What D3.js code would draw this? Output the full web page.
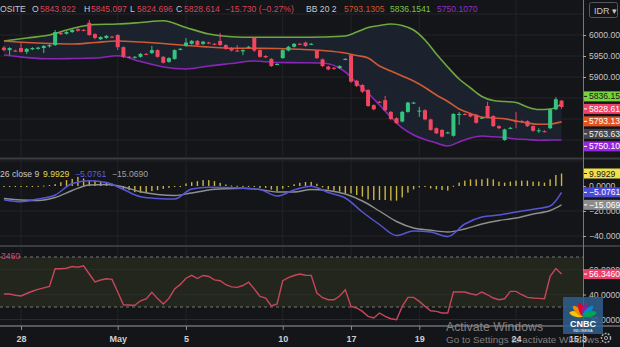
<!DOCTYPE html>
<html><head><meta charset="utf-8">
<script src="https://cdn.jsdelivr.net/npm/d3@7"></script>
<style>html,body{margin:0;padding:0;background:#141518;overflow:hidden}svg{display:block}text{font-family:"Liberation Sans",Arial,sans-serif}</style>
</head><body><svg id="c" width="620" height="347"></svg>
<script>
// ---------- DATA ----------
const dayLabels = ["28","May","5","10","17","19","24"];
const dayIdx = [3,20,32,49,61,73,90];

const open = [5970,5964,5963,5969,5960,5966,5967,5969,5973,5976,
6005,6003,6007,6014,6012,6029,6002,5990,5993,5996,
6000,5971,5948,5947,5948,5955,5957,5964,5948,5936,
5943,5966,5974,5979,5986,5979,5982,5979,5986,5976,
5969,5963,5961,5971,5993,5964,5950,5943,5930,5945,
5963,5972,5979,5982,5978,5963,5942,5925,5922,5921,
5942,5952,5891,5881,5869,5833,5841,5845,5817,5802,
5794,5817,5838,5818,5821,5799,5778,5774,5767,5760,
5810,5812,5812,5810,5802,5831,5807,5783,5750,5778,
5795,5795,5795,5783,5771,5771,5778,5823,5843.922];
const high = [5974,5971,5965,5981,5969,5971,5972,5976,5978,6012,
6008,6009,6014,6016,6014,6036,6004,5997,6000,5998,
6002,5973,5950,5950,5957,5957,5974,5966,5950,5947,
5966,5969,5993,5988,5988,5986,5984,5981,6005,5978,
5971,5976,5966,5974,5995,5966,5952,5945,5933,5966,
5974,5981,5981,5984,5981,5965,5944,5927,5924,5928,
5945,5954,5893,5883,5871,5835,5843,5855,5819,5804,
5819,5841,5841,5829,5823,5801,5780,5776,5770,5814,
5817,5814,5814,5812,5805,5841,5809,5785,5777,5781,
5817,5798,5797,5785,5778,5773,5825,5852,5845.097];
const low = [5961,5952,5960,5958,5955,5964,5965,5957,5970,5974,
6000,6001,6005,6008,6009,5998,5990,5988,5991,5993,
5964,5945,5945,5944,5946,5952,5955,5946,5932,5934,
5941,5964,5972,5977,5974,5976,5978,5976,5974,5965,
5961,5960,5952,5969,5960,5946,5945,5924,5928,5943,
5961,5970,5976,5972,5976,5943,5924,5916,5917,5919,
5940,5886,5876,5862,5829,5821,5838,5819,5797,5788,
5792,5815,5836,5805,5797,5772,5764,5756,5765,5758,
5786,5809,5804,5789,5800,5802,5781,5776,5748,5776,
5778,5791,5781,5770,5767,5768,5776,5821,5824.696];
const close = [5964,5969,5962,5960,5967,5969,5970,5974,5976,6007,
6002,6007,6012,6010,6011,6000,5993,5995,5998,5995,
5971,5948,5947,5948,5955,5954,5964,5948,5934,5945,
5964,5967,5982,5986,5976,5984,5981,5978,5976,5967,
5963,5962,5964,5972,5963,5948,5947,5926,5931,5964,
5972,5979,5978,5974,5979,5945,5926,5918,5920,5926,
5943,5889,5879,5865,5831,5823,5840,5821,5800,5790,
5817,5839,5839,5820,5799,5774,5766,5758,5768,5812,
5812,5811,5806,5791,5803,5804,5783,5778,5775,5779,
5794,5794,5783,5772,5773,5770,5823,5847,5828.614];

const bbIdx = [0,4,8,12,16,20,24,28,32,36,40,44,48,52,56,60,62,64,66,68,70,72,74,76,78,80,82,84,86,88,90,92,94,96,98];
const bbUpper = [5985.7,5992.9,6000,6015.5,6025,6026.2,6029.8,6034,6017.9,6002.4,5995.7,5994.5,5994.5,5994.5,5995.2,5997.6,6007.1,6017.9,6022.6,6026.2,6022.6,6011.9,5988.1,5954.8,5923.8,5895.2,5873.8,5853.6,5844,5841.7,5839.3,5828.6,5822.6,5823.8,5836.1541];
const bbMid = [5985.7,5982.1,5979.8,5978.6,5982.1,5985.7,5983.3,5979.8,5975,5971.4,5968.3,5968.3,5967.9,5966,5963.1,5957.1,5951.2,5945.2,5926.2,5914.3,5902.4,5890.5,5875,5857.1,5841.7,5823.8,5813.1,5804.8,5802.4,5800.5,5795.2,5790.5,5787.4,5788.1,5793.1305];
const bbLower = [5952.4,5946.4,5943.3,5944,5945.2,5950.5,5936.9,5923.8,5919,5926.2,5932.1,5938.1,5934.5,5934,5933.3,5911.9,5885.7,5861.9,5833.3,5804.8,5778.6,5761.9,5751.2,5742.9,5735.7,5745.2,5754.8,5759.5,5757.6,5756,5752.4,5751.2,5749.3,5750,5750.1070];

const macdIdx = [0,3,6,9,12,15,18,21,24,27,30,33,36,39,42,45,48,51,54,57,60,63,66,69,72,75,78,81,84,87,90,93,96,98];
const macdLine = [-11.0,-12.6,-10.4,-7.2,2.0,4.2,2.8,-2.8,-8.6,-10.0,-10.4,-2.4,-1.0,-1.2,-1.8,-2.8,-8.0,-3.2,-0.2,-5.2,-9.6,-20.8,-30.8,-39.6,-36.0,-36.8,-40.4,-30.4,-24.8,-23.2,-20.8,-18.6,-16.0,-5.0761];
const signalLine = [-10.0,-11.2,-11.6,-9.2,-3.6,0.8,1.2,-0.8,-4.6,-6.8,-7.6,-5.6,-3.2,-2.2,-1.8,-2.8,-4.8,-4.8,-2.8,-3.6,-6.4,-12.0,-20.0,-28.4,-33.6,-35.4,-36.8,-34.4,-30.4,-27.6,-25.6,-22.4,-19.6,-15.0690];
const macdHist = [-0.3,-0.4,-0.3,-0.2,-0.2,-0.1,0.1,0.3,0.8,1.5,
3.0,4.7,5.7,7.3,6.0,4.7,4.4,3.6,2.5,2.0,
0.4,-2.3,-3.3,-4.9,-5.5,-5.5,-4.1,-3.3,-2.3,-1.5,
-0.7,-0.1,2.0,3.1,3.9,4.7,4.7,3.9,2.5,1.2,
0.4,0.2,0.1,0.1,-0.7,-1.5,-1.5,-2.8,-4.1,-2.1,
-0.4,1.4,2.6,3.2,3.3,1.8,-1.1,-2.7,-3.7,-4.5,
-5.9,-5.9,-7.2,-8.5,-10.7,-11.2,-11.2,-11.2,-11.7,-11.7,
-9.1,-5.3,-2.7,-1.1,-0.5,-1.9,-2.7,-3.2,-3.7,0.2,
2.7,4.3,5.3,5.3,5.3,6.1,5.3,3.5,2.7,3.5,
4.3,4.3,4.3,3.5,3.5,2.7,5.3,8.8,9.9929];

const rsi = [40.4,40.4,39.4,38.8,40.8,42.6,44.1,45.3,46.4,60.6,
60.6,61.0,62.4,61.8,63.0,56.4,50.0,51.6,52.6,52.1,
42.0,31.8,31.6,31.3,35.0,36.5,41.7,36.7,32.4,36.9,
44.4,48.1,53.0,55.3,52.8,55.2,54.4,51.7,51.0,47.8,
46.1,45.7,47.2,49.8,44.5,38.5,37.2,30.8,32.4,51.0,
53.5,55.2,56.4,55.4,55.3,41.2,37.4,35.8,35.8,38.8,
43.8,30.5,29.2,26.5,22.5,21.2,25.2,22.5,20.6,19.8,
30.5,37.7,37.7,34.5,30.5,27.0,26.5,25.2,25.2,42.0,
42.0,42.0,40.6,39.6,42.0,39.8,37.2,35.8,36.6,42.5,
42.5,39.8,37.7,37.2,36.9,36.6,54.5,60.8,56.346];

const priceTicks = [6000,5950,5900];
const priceGrid = [6050,6000,5950,5900,5850,5800,5750];
const macdTicks = [0,-20,-40];
const rsiTicks = [60,40,20];
const crossPrice = 5763.632;
const changeText = "\u221215.730 (\u22120.27%)";

// ---------- CHART ----------
const W = 620, H = 347, AX = 583;
const FONT = '"Liberation Sans",Arial,sans-serif';
const svg = d3.select('#c');
svg.append('rect').attr('width', W).attr('height', H).attr('fill', '#141518');

const x = d3.scaleLinear().domain([0, 98]).range([3.93, 561.55]);
const yP = d3.scaleLinear().domain([5900, 6000]).range([77, 35]);
const yM = d3.scaleLinear().domain([-40, 0]).range([236, 186]);
const yR = d3.scaleLinear().domain([30, 70]).range([307, 257]);

const defs = svg.append('defs');
const panels = {main: [0, 157], macd: [160, 245], rsi: [247, 325]};
Object.entries(panels).forEach(([k, [a, b]]) => {
  defs.append('clipPath').attr('id', 'clip-' + k)
    .append('rect').attr('x', 0).attr('y', a).attr('width', AX).attr('height', b - a);
});
const gMain = svg.append('g').attr('clip-path', 'url(#clip-main)');
const gMacd = svg.append('g').attr('clip-path', 'url(#clip-macd)');
const gRsi = svg.append('g').attr('clip-path', 'url(#clip-rsi)');

// vertical grid
[[gMain, panels.main], [gMacd, panels.macd], [gRsi, panels.rsi]].forEach(([g, [a, b]]) => {
  g.selectAll(null).data(dayIdx).enter().append('line')
    .attr('x1', d => x(d)).attr('x2', d => x(d)).attr('y1', a).attr('y2', b)
    .attr('stroke', '#222328').attr('stroke-width', 1);
});
// horizontal grid
gMain.selectAll(null).data(priceGrid).enter().append('line')
  .attr('x1', 0).attr('x2', AX).attr('y1', d => yP(d)).attr('y2', d => yP(d))
  .attr('stroke', '#222328');
gMacd.selectAll(null).data([20, -20, -40]).enter().append('line')
  .attr('x1', 0).attr('x2', AX).attr('y1', d => yM(d)).attr('y2', d => yM(d))
  .attr('stroke', '#222328');

// Bollinger fill + lines
const bb = bbIdx.map((d, i) => ({i: d, u: bbUpper[i], m: bbMid[i], l: bbLower[i]}));
gMain.append('path').datum(bb)
  .attr('d', d3.area().x(d => x(d.i)).y0(d => yP(d.l)).y1(d => yP(d.u)).curve(d3.curveMonotoneX))
  .attr('fill', '#1b222d');
[['u', '#6ea83e'], ['m', '#cf5a33'], ['l', '#8b25b8']].forEach(([k, c]) => {
  gMain.append('path').datum(bb)
    .attr('d', d3.line().x(d => x(d.i)).y(d => yP(d[k])).curve(d3.curveMonotoneX))
    .attr('fill', 'none').attr('stroke', c).attr('stroke-width', 1.6);
});

// candles
const UP = '#35c47f', DN = '#f0475f';
const candles = open.map((o, i) => ({i, o, h: high[i], l: low[i], c: close[i]}));
const cg = gMain.selectAll(null).data(candles).enter().append('g');
cg.append('line')
  .attr('x1', d => x(d.i)).attr('x2', d => x(d.i))
  .attr('y1', d => yP(d.h)).attr('y2', d => yP(d.l))
  .attr('stroke', d => d.c >= d.o ? UP : DN).attr('stroke-width', 1);
cg.append('rect')
  .attr('x', d => x(d.i) - 2).attr('width', 4)
  .attr('y', d => yP(Math.max(d.o, d.c)))
  .attr('height', d => Math.max(1, Math.abs(yP(d.o) - yP(d.c))))
  .attr('fill', d => d.c >= d.o ? UP : DN);

// MACD
gMacd.selectAll(null).data(macdHist).enter().append('rect')
  .attr('x', (d, i) => x(i) - 0.7).attr('width', 1.4)
  .attr('y', d => Math.min(yM(d), yM(0)))
  .attr('height', d => Math.max(1, Math.abs(yM(d) - yM(0))))
  .attr('fill', '#c9b646');
const mline = d3.line().x(d => x(d[0])).y(d => yM(d[1])).curve(d3.curveMonotoneX);
gMacd.append('path').datum(macdIdx.map((d, i) => [d, signalLine[i]]))
  .attr('d', mline).attr('fill', 'none').attr('stroke', '#8f8f8f').attr('stroke-width', 1.4);
gMacd.append('path').datum(macdIdx.map((d, i) => [d, macdLine[i]]))
  .attr('d', mline).attr('fill', 'none').attr('stroke', '#5656d6').attr('stroke-width', 1.5);

// RSI
gRsi.append('rect').attr('x', 0).attr('width', AX)
  .attr('y', yR(70)).attr('height', yR(30) - yR(70)).attr('fill', '#22261d');
gRsi.selectAll(null).data([60, 40, 20]).enter().append('line')
  .attr('x1', 0).attr('x2', AX).attr('y1', d => yR(d)).attr('y2', d => yR(d))
  .attr('stroke', '#2a2c2a');
gRsi.selectAll(null).data([70, 30]).enter().append('line')
  .attr('x1', 0).attr('x2', AX).attr('y1', d => yR(d)).attr('y2', d => yR(d))
  .attr('stroke', '#777').attr('stroke-dasharray', '3,3');
gRsi.append('path').datum(rsi)
  .attr('d', d3.line().x((d, i) => x(i)).y(d => yR(d)))
  .attr('fill', 'none').attr('stroke', '#c8465a').attr('stroke-width', 1.4);

// separators
svg.append('line').attr('x1', 0).attr('x2', W).attr('y1', 158.5).attr('y2', 158.5).attr('stroke', '#3a3b40').attr('stroke-width', 2);
svg.append('line').attr('x1', 0).attr('x2', W).attr('y1', 246).attr('y2', 246).attr('stroke', '#3a3b40').attr('stroke-width', 2);
svg.append('line').attr('x1', 0).attr('x2', W).attr('y1', 326).attr('y2', 326).attr('stroke', '#57585c').attr('stroke-width', 2);
svg.append('line').attr('x1', AX + 0.5).attr('x2', AX + 0.5).attr('y1', 0).attr('y2', H).attr('stroke', '#77787c').attr('stroke-width', 1);

// right axes
function styleAxis(g) {
  g.select('.domain').remove();
  g.selectAll('.tick line').attr('stroke', '#aaa');
  g.selectAll('.tick text').attr('fill', '#c4c4c4').attr('font-size', 8.6).attr('font-family', FONT);
}
svg.append('g').attr('transform', `translate(${AX},0)`)
  .call(d3.axisRight(yP).tickValues(priceTicks).tickSize(3).tickPadding(3).tickFormat(d3.format('.3f'))).call(styleAxis);
svg.append('g').attr('transform', `translate(${AX},0)`)
  .call(d3.axisRight(yM).tickValues(macdTicks).tickSize(3).tickPadding(3).tickFormat(d3.format('.4f'))).call(styleAxis);
svg.append('g').attr('transform', `translate(${AX},0)`)
  .call(d3.axisRight(yR).tickValues(rsiTicks).tickSize(3).tickPadding(3).tickFormat(d3.format('.4f'))).call(styleAxis);

// value boxes
function relax(items, gap) {
  items.sort((a, b) => a.y - b.y);
  for (let it = 0; it < 100; it++) {
    let moved = false;
    for (let i = 1; i < items.length; i++) {
      const d = items[i].y - items[i - 1].y;
      if (d < gap - 0.01) { const s = (gap - d) / 2; items[i].y += s; items[i - 1].y -= s; moved = true; }
    }
    if (!moved) break;
  }
  return items;
}
const fmt3 = d3.format('.3f'), fmt4 = d3.format('.4f');
const mainBoxes = relax([
  {v: bbUpper[bbUpper.length - 1], bg: '#79d13f', fg: '#152010'},
  {v: close[close.length - 1], bg: '#ef4266', fg: '#fff'},
  {v: bbMid[bbMid.length - 1], bg: '#e4531f', fg: '#fff'},
  {v: crossPrice, bg: '#44454a', fg: '#f0f0f0'},
  {v: bbLower[bbLower.length - 1], bg: '#9626dc', fg: '#fff'}
].map(d => Object.assign(d, {y: yP(d.v), t: fmt3(d.v)})), 12.5);
const macdBoxes = relax([
  {v: macdHist[macdHist.length - 1], bg: '#efe04c', fg: '#1a1a10'},
  {v: macdLine[macdLine.length - 1], bg: '#4a4ad8', fg: '#fff'},
  {v: signalLine[signalLine.length - 1], bg: '#8c8c8c', fg: '#fff'}
].map(d => Object.assign(d, {y: yM(d.v), t: fmt4(d.v)})), 11);
const rsiBoxes = [{v: rsi[rsi.length - 1], bg: '#e8406a', fg: '#fff'}].map(d => Object.assign(d, {y: yR(d.v), t: fmt4(d.v)}));
const allBoxes = mainBoxes.concat(macdBoxes, rsiBoxes);
const bgx = svg.selectAll(null).data(allBoxes).enter().append('g');
bgx.append('rect').attr('x', AX + 1).attr('y', d => d.y - 5).attr('width', W - AX).attr('height', 10)
  .attr('fill', d => d.bg);
bgx.append('line').attr('x1', AX + 1).attr('x2', AX + 4).attr('y1', d => d.y).attr('y2', d => d.y).attr('stroke', d => d.fg);
bgx.append('text').attr('x', AX + 6).attr('y', d => d.y).attr('dy', '0.35em')
  .attr('font-size', 8.6).attr('fill', d => d.fg).text(d => d.t);

// time axis
const ta = svg.append('g').attr('transform', 'translate(0,326)')
  .call(d3.axisBottom(x).tickValues(dayIdx).tickSize(4).tickPadding(6).tickFormat((d, i) => dayLabels[i]));
ta.select('.domain').remove();
ta.selectAll('.tick line').attr('stroke', '#8a8a8a');
ta.selectAll('.tick text').attr('fill', '#d0d0d0').attr('font-size', 9).attr('font-weight', 'bold').attr('font-family', FONT);
svg.append('text').attr('x', 569).attr('y', 342).attr('font-size', 9).attr('font-weight', 'bold')
  .attr('fill', '#d0d0d0').text('15:3');

// headers
const last = open.length - 1;
const HF = 8.6;
const hdr = [
  {t: 'OSITE', x: 0, c: '#c8c8c8'},
  {t: 'O', x: 32, c: '#c8c8c8'}, {t: fmt3(open[last]), x: 40, c: '#d9435a'},
  {t: 'H', x: 84, c: '#c8c8c8'}, {t: fmt3(high[last]), x: 91, c: '#d9435a'},
  {t: 'L', x: 130, c: '#c8c8c8'}, {t: fmt3(low[last]), x: 137, c: '#d9435a'},
  {t: 'C', x: 176, c: '#c8c8c8'}, {t: fmt3(close[last]), x: 184, c: '#d9435a'},
  {t: changeText, x: 225, c: '#d9435a'},
  {t: 'BB 20 2', x: 306, c: '#c8c8c8'},
  {t: fmt4(bbMid[bbMid.length - 1]), x: 344, c: '#d0532e'},
  {t: fmt4(bbUpper[bbUpper.length - 1]), x: 390, c: '#7cc445'},
  {t: fmt4(bbLower[bbLower.length - 1]), x: 437, c: '#9130c8'}
];
svg.selectAll(null).data(hdr).enter().append('text')
  .attr('x', d => d.x).attr('y', 12).attr('font-size', HF).attr('fill', d => d.c).text(d => d.t);
const mh = [
  {t: '26 close 9', x: 0, c: '#c8c8c8'},
  {t: fmt4(macdHist[macdHist.length - 1]), x: 43, c: '#e6d54a'},
  {t: '\u2212' + fmt4(-macdLine[macdLine.length - 1]), x: 75, c: '#5c5ce0'},
  {t: '\u2212' + fmt4(-signalLine[signalLine.length - 1]), x: 112, c: '#a0a0a0'}
];
svg.selectAll(null).data(mh).enter().append('text')
  .attr('x', d => d.x).attr('y', 176.5).attr('font-size', HF).attr('fill', d => d.c).text(d => d.t);
svg.append('text').attr('x', 1).attr('y', 259).attr('font-size', HF).attr('fill', '#d8476a').text('3460');

// IDR box
svg.append('rect').attr('x', 589.5).attr('y', 2.5).attr('width', 28).attr('height', 15).attr('rx', 2)
  .attr('fill', '#141518').attr('stroke', '#56575c');
svg.append('text').attr('x', 594).attr('y', 13.5).attr('font-size', 9).attr('fill', '#c8c8c8').text('IDR \u25BE');

// CNBC logo
const lg = svg.append('g');
lg.append('rect').attr('x', 563).attr('y', 297).attr('width', 40).attr('height', 37).attr('fill', '#2e5f8e').attr('opacity', 0.85);
const feathers = ['#f6c500', '#f08a00', '#e4002b', '#7a2c91', '#0089cf', '#00a651'];
feathers.forEach((c, i) => {
  const a = -75 + i * 30;
  lg.append('ellipse').attr('cx', 583).attr('cy', 309).attr('rx', 2.6).attr('ry', 7)
    .attr('transform', `rotate(${a},583,316)`).attr('fill', c);
});
lg.append('text').attr('x', 583).attr('y', 327).attr('text-anchor', 'middle').attr('font-size', 9)
  .attr('font-weight', 'bold').attr('fill', '#fff').text('CNBC');
lg.append('text').attr('x', 583).attr('y', 332).attr('text-anchor', 'middle').attr('font-size', 3.5)
  .attr('fill', '#fff').text('INDONESIA');

// gear
svg.append('circle').attr('cx', 606).attr('cy', 338).attr('r', 4.5).attr('fill', 'none')
  .attr('stroke', '#aaa').attr('stroke-width', 1.5).attr('stroke-dasharray', '2,1.2');
svg.append('circle').attr('cx', 606).attr('cy', 338).attr('r', 1.6).attr('fill', 'none').attr('stroke', '#aaa');

// watermark
svg.append('text').attr('x', 446).attr('y', 331).attr('font-size', 12.3).attr('fill', '#9a9a9a').attr('opacity', 0.8).text('Activate Windows');
svg.append('text').attr('x', 446).attr('y', 342.5).attr('font-size', 9.9).attr('fill', '#9a9a9a').attr('opacity', 0.8).text('Go to Settings to activate Windows.');
</script></body></html>
